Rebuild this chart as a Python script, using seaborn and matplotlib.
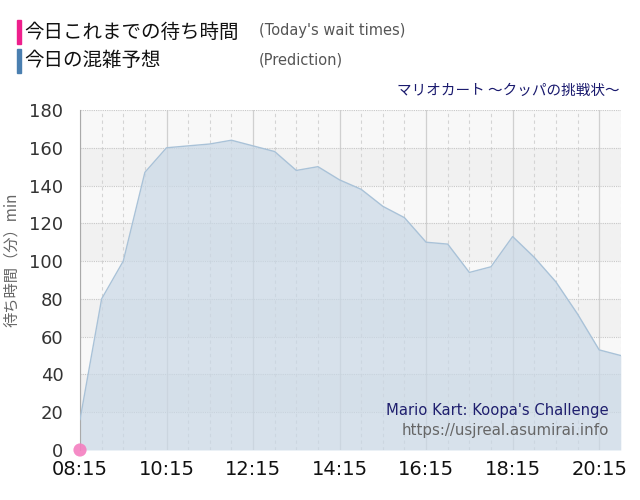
import numpy as np
import pandas as pd
import matplotlib
matplotlib.use("Agg")
import matplotlib.pyplot as plt
import seaborn as sns

times = ["08:15", "08:45", "09:15", "09:45", "10:15", "10:45", "11:15", "11:45",
         "12:15", "12:45", "13:15", "13:45", "14:15", "14:45", "15:15", "15:45",
         "16:15", "16:45", "17:15", "17:45", "18:15", "18:45", "19:15", "19:45",
         "20:15", "20:45"]
prediction = [16, 80, 100, 147, 160, 161, 162, 164, 161, 158, 148, 150, 143, 138,
              129, 123, 110, 109, 94, 97, 113, 102, 89, 72, 53, 50]
actual_times = ["08:15"]
actual_values = [0]
tick_labels = ["08:15", "10:15", "12:15", "14:15", "16:15", "18:15", "20:15"]


def to_hours(t):
    h, m = t.split(":")
    return int(h) + int(m) / 60.0


sns.set_theme(style="white")
plt.rcParams['font.family'] = ['Noto Sans CJK JP', 'DejaVu Sans']

df = pd.DataFrame({"t": [to_hours(t) for t in times], "v": prediction})
dfa = pd.DataFrame({"t": [to_hours(t) for t in actual_times], "v": actual_values})

fig = plt.figure(figsize=(6.4, 5.0), dpi=100)
ax = fig.add_axes([0.125, 0.10, 0.845, 0.68])

# alternating bands
for lo in range(0, 180, 20):
    col = "#f8f8f8" if (lo // 20) % 2 == 0 else "#f1f1f1"
    ax.axhspan(lo, lo + 20, color=col, zorder=0, lw=0)

xmin, xmax = to_hours("08:15"), to_hours("20:45")
ax.set_xlim(xmin, xmax)
ax.set_ylim(0, 180)

# grid
for h in np.arange(xmin, xmax + 0.01, 0.5):
    major = abs(((h - xmin) / 2) - round((h - xmin) / 2)) < 1e-6
    if major:
        ax.axvline(h, color="#d0d0d0", lw=0.9, zorder=1)
    else:
        ax.axvline(h, color="#d4d4d4", lw=0.8, ls=(0, (3, 3)), zorder=1)
for y in range(20, 181, 20):
    ax.axhline(y, color="#c8c8c8", lw=0.8, ls=(0, (1, 1)), zorder=1)

sns.lineplot(data=df, x="t", y="v", ax=ax, color="#a9c2d8", lw=1.0, zorder=3)
ax.fill_between(df["t"], df["v"], 0, color="#c9d8e6", alpha=0.7, lw=0, zorder=2)
sns.scatterplot(data=dfa, x="t", y="v", ax=ax, color="#f47fc0", s=90,
                edgecolor="none", zorder=5, clip_on=False, alpha=0.9)

ax.set_xticks([to_hours(t) for t in tick_labels])
ax.set_xticklabels(tick_labels, fontsize=14, color="#111111", family="DejaVu Sans")
ax.set_yticks(range(0, 181, 20))
ax.set_yticklabels([str(v) for v in range(0, 181, 20)], fontsize=13,
                   color="#333333", family="DejaVu Sans")
ax.tick_params(axis="x", length=0, pad=7)
ax.tick_params(axis="y", length=0, pad=12)
ax.set_xlabel("")
ax.set_ylabel("待ち時間（分）min", fontsize=11, color="#666666", labelpad=0)
ax.yaxis.set_label_coords(-0.11, 0.56)
for s in ["top", "right", "bottom"]:
    ax.spines[s].set_visible(False)
ax.spines["left"].set_color("#aaaaaa")
ax.spines["left"].set_linewidth(0.8)

# legend-like header
fig.patches.append(plt.Rectangle((17 / 640, 1 - 44 / 500), 4 / 640, 24 / 500,
                                 transform=fig.transFigure, color="#ee1f8c", figure=fig))
fig.patches.append(plt.Rectangle((17 / 640, 1 - 73 / 500), 4 / 640, 24 / 500,
                                 transform=fig.transFigure, color="#4a7fb0", figure=fig))
fig.text(24 / 640, 1 - 32 / 500, "今日これまでの待ち時間", fontsize=14, va="center",
         color="#111111")
fig.text(24 / 640, 1 - 61 / 500, "今日の混雑予想", fontsize=14, va="center", color="#111111")
fig.text(259 / 640, 1 - 31 / 500, "(Today's wait times)", fontsize=10.5, va="center",
         color="#555555", family="DejaVu Sans")
fig.text(259 / 640, 1 - 60 / 500, "(Prediction)", fontsize=10.5, va="center",
         color="#555555", family="DejaVu Sans")
fig.text(620 / 640, 1 - 91 / 500, "マリオカート ～クッパの挑戦状～", fontsize=10.5,
         ha="right", va="center", color="#1a1a6e")

ax.text(0.978, 0.115, "Mario Kart: Koopa's Challenge", transform=ax.transAxes,
        ha="right", va="center", fontsize=10.6, color="#1f1f6e", family="DejaVu Sans", zorder=6)
ax.text(0.978, 0.056, "https://usjreal.asumirai.info", transform=ax.transAxes,
        ha="right", va="center", fontsize=10.8, color="#666666", family="DejaVu Sans", zorder=6)

fig.savefig("out.png", dpi=100)
